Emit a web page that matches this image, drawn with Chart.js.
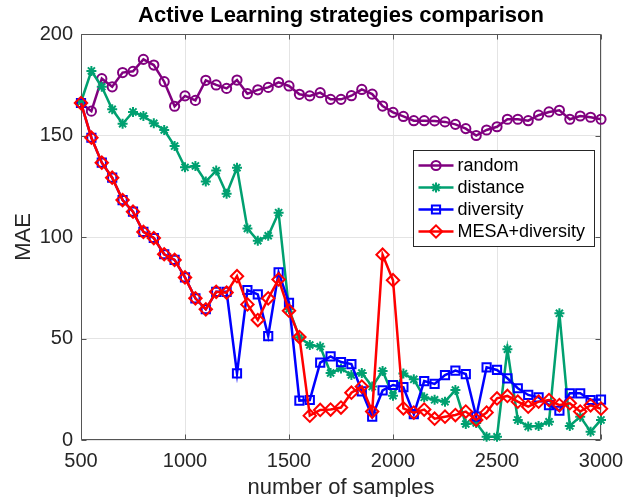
<!DOCTYPE html>
<html><head><meta charset="utf-8">
<script src="https://cdn.jsdelivr.net/npm/chart.js@4.4.1/dist/chart.umd.min.js"></script>
<style>html,body{margin:0;padding:0;background:#fff}</style>
</head><body>
<canvas id="c" width="636" height="497"></canvas>
<script>
const samples = [500,550,600,650,700,750,800,850,900,950,1000,1050,1100,1150,1200,1250,1300,1350,1400,1450,1500,1550,1600,1650,1700,1750,1800,1850,1900,1950,2000,2050,2100,2150,2200,2250,2300,2350,2400,2450,2500,2550,2600,2650,2700,2750,2800,2850,2900,2950,3000];
const randomMAE = [166,162,178,174,181,181.6,187.5,184.7,176.5,164.4,169.5,167.3,177.2,174.9,173.2,177.3,170.6,172.5,173.7,176.2,174.4,170.3,169.5,171.1,167.8,167.8,169.6,172.7,170.4,164.5,161.4,159.4,157.3,157.3,157.2,156.7,155.5,153.4,150,152.7,154.3,158,158,157.3,160,161.6,162.4,158,159.6,159,158];
const distanceMAE = [166.5,181.8,174,162.9,155.8,161.6,159.6,156,152.7,144.8,134.3,135,127.3,132.7,121.3,134.1,104.2,98.2,100.6,112,64.4,50.6,46.8,46,33,35.2,32,33,26.3,34,21.8,32.7,29.9,21,19.8,18.9,24.6,7.9,8.4,1.6,1.6,44.7,9.9,6.6,6.9,9,62.4,6.9,11.5,4.1,9.9];
const diversityMAE = [166,148.9,136.6,129.2,118.2,112.5,102.5,99.5,91.5,88.7,80.1,69.8,64.4,73,73,32.8,73.9,71.7,51.2,82.6,67.6,19.4,19.7,38.1,41.2,38.4,37.4,24,11.5,24.4,27.1,26,12.7,29,27.6,32,34.2,32.5,11.5,35.8,34.5,30.4,25.5,22.2,21,17.2,14.4,23,23,19.7,19.9];
const mesaMAE = [166,148.9,136.6,129.2,118.2,112.5,102.5,99.5,91.5,88.7,80.1,69.8,64.4,73,72.6,80.7,66.8,59.1,69.8,79.1,63.7,50.7,12,14.8,15,16,23.3,26.3,14,91.3,78.7,15.6,13.5,15,10.5,11.5,12.3,14,9.9,13.5,20.5,21.7,18.9,16.4,18.9,19.7,17.2,18.1,14,17.1,15.4];
const xTicks = [500,1000,1500,2000,2500,3000];
const yTicks = [0,50,100,150,200];
const seriesNames = ['random','distance','diversity','MESA+diversity'];
const titleText = 'Active Learning strategies comparison';
const xLabel = 'number of samples';
const yLabel = 'MAE';

const colors = ['#80007f','#00a070','#0000ff','#ff0000'];
const styles = ['circle','star','rect','rectRot'];
const radii = [4.6,5,5.8,6.2];
const seriesData = [randomMAE, distanceMAE, diversityMAE, mesaMAE];
const FONT = "'Liberation Sans', Arial, Helvetica, sans-serif";
const TXT = '#262626';

function pts(arr){ return samples.map((x,i)=>({x:x,y:arr[i]})); }

function drawMarker(ctx, style, x, y, r){
  ctx.beginPath();
  if(style==='circle'){ ctx.arc(x,y,r,0,Math.PI*2); }
  else if(style==='rect'){ const s=r*Math.SQRT1_2; ctx.rect(x-s,y-s,2*s,2*s); }
  else if(style==='rectRot'){ ctx.moveTo(x-r,y); ctx.lineTo(x,y-r); ctx.lineTo(x+r,y); ctx.lineTo(x,y+r); ctx.closePath(); }
  else if(style==='star'){
    for(let k=0;k<4;k++){ const a=k*Math.PI/4; ctx.moveTo(x-Math.cos(a)*r,y-Math.sin(a)*r); ctx.lineTo(x+Math.cos(a)*r,y+Math.sin(a)*r); }
  }
  ctx.stroke();
}

const matlabAxes = {
  id:'matlabAxes',
  beforeDatasetsDraw(chart){
    const {ctx, chartArea:a, scales:{x,y}} = chart;
    ctx.save();
    ctx.strokeStyle = '#555';
    ctx.lineWidth = 1;
    const L=Math.round(a.left)+0.5, R=Math.round(a.right)-0.5, T=Math.round(a.top)+0.5, B=Math.round(a.bottom)-0.5;
    ctx.beginPath();
    ctx.rect(L,T,R-L,B-T);
    const tl=5;
    xTicks.forEach(v=>{ const px=Math.round(x.getPixelForValue(v))+0.5; ctx.moveTo(px,B); ctx.lineTo(px,B-tl); ctx.moveTo(px,T); ctx.lineTo(px,T+tl); });
    yTicks.forEach(v=>{ const py=Math.round(y.getPixelForValue(v))+0.5; ctx.moveTo(L,py); ctx.lineTo(L+tl,py); ctx.moveTo(R,py); ctx.lineTo(R-tl,py); });
    ctx.stroke();
    ctx.restore();
  },
  afterDraw(chart){
    const {ctx, chartArea:a} = chart;
    ctx.save();
    ctx.fillStyle = '#000';
    ctx.font = 'bold 22px ' + FONT;
    ctx.textAlign = 'center';
    ctx.textBaseline = 'middle';
    ctx.fillText(titleText, (a.left+a.right)/2, 16);
    // legend
    const bx=413.5, by=150.5, bw=181, bh=96;
    ctx.fillStyle='#fff';
    ctx.fillRect(bx,by,bw,bh);
    ctx.strokeStyle='#262626';
    ctx.lineWidth=1;
    ctx.strokeRect(bx,by,bw,bh);
    ctx.font = '18px ' + FONT;
    ctx.textAlign='left';
    seriesNames.forEach((name,i)=>{
      const ly = by + 15 + i*22;
      ctx.strokeStyle = colors[i];
      ctx.lineWidth = 2.5;
      ctx.beginPath(); ctx.moveTo(bx+5,ly); ctx.lineTo(bx+40,ly); ctx.stroke();
      ctx.lineWidth = 2;
      drawMarker(ctx, styles[i], bx+22.5, ly, radii[i]);
      ctx.fillStyle = '#000';
      ctx.fillText(name, bx+44, ly+1);
    });
    ctx.restore();
  }
};

new Chart(document.getElementById('c'), {
  type:'line',
  data:{
    datasets: seriesData.map((arr,i)=>({
      label: seriesNames[i],
      data: pts(arr),
      borderColor: colors[i],
      backgroundColor: 'rgba(0,0,0,0)',
      borderWidth: 2.5,
      pointStyle: styles[i],
      pointRadius: radii[i],
      pointBorderWidth: 2,
      pointBorderColor: colors[i],
      pointBackgroundColor: 'rgba(0,0,0,0)',
      tension: 0,
      clip: false,
      order: 3 - i
    }))
  },
  options:{
    responsive:false,
    animation:false,
    devicePixelRatio:1,
    layout:{ padding:{ top:34, right:35, left:0, bottom:0 } },
    plugins:{ legend:{display:false}, title:{display:false}, tooltip:{enabled:false} },
    scales:{
      x:{
        type:'linear', min:500, max:3000,
        afterBuildTicks: s => { s.ticks = xTicks.map(v=>({value:v})); },
        afterFit: s => { s.height = 57; },
        grid:{ color:'#e4e4e4', drawTicks:false, lineWidth:1 },
        border:{ display:false },
        ticks:{ padding:9, color:TXT, font:{ family:FONT, size:20 }, maxRotation:0, callback: v => String(v) },
        title:{ display:true, text:xLabel, color:TXT, font:{ family:FONT, size:22 }, padding:{ top:0, bottom:-4 } }
      },
      y:{
        type:'linear', min:0, max:200,
        afterBuildTicks: s => { s.ticks = yTicks.map(v=>({value:v})); },
        afterFit: s => { s.width = 81; },
        grid:{ color:'#e4e4e4', drawTicks:false, lineWidth:1 },
        border:{ display:false },
        ticks:{ padding:8, color:TXT, font:{ family:FONT, size:20 }, callback: v => String(v) },
        title:{ display:true, text:yLabel, color:TXT, font:{ family:FONT, size:22 }, padding:{ top:11, bottom:0 } }
      }
    }
  },
  plugins:[matlabAxes]
});
</script>
</body></html>
